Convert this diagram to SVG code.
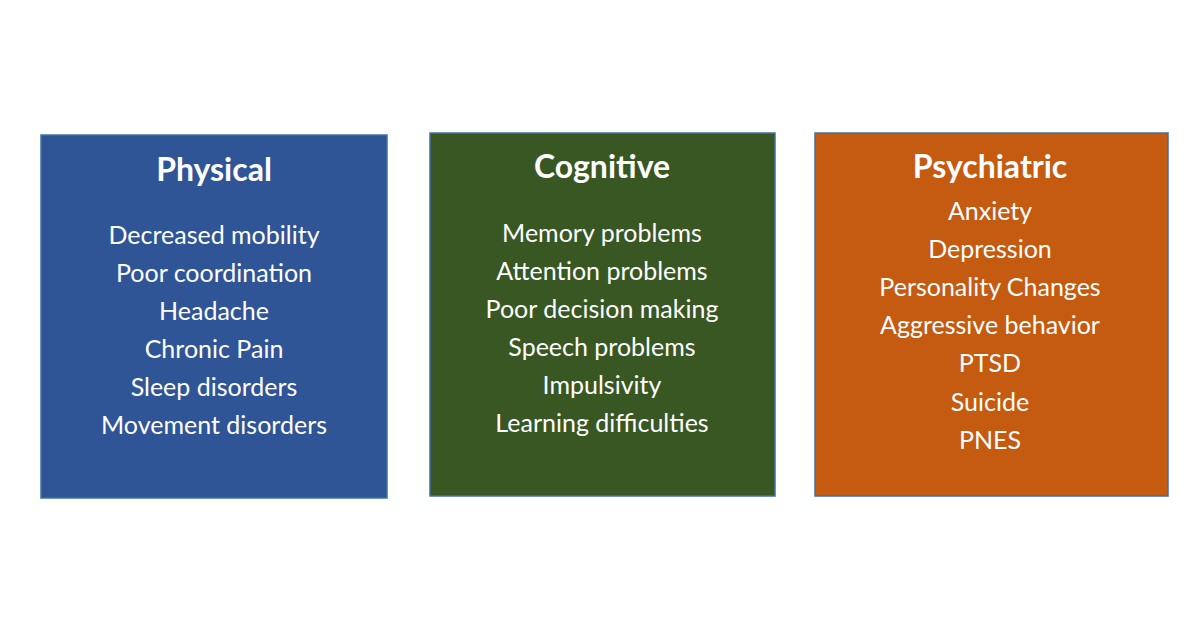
<svg xmlns="http://www.w3.org/2000/svg" width="1200" height="630" viewBox="0 0 1200 630">
<style>
.box{stroke:#41719C;stroke-width:1.5}
text{font-family:Lato,"Open Sans",sans-serif;fill:#fff;text-anchor:middle}
.t{font-size:32px;font-weight:bold}
.i{font-size:25px}
</style>
<rect width="1200" height="630" fill="#fff"/>
<g id="physical">
<rect class="box" x="41" y="135" width="346" height="363" fill="#2F5597"/>
<text class="t" x="214" y="181">Physical</text>
<text class="i" x="214" y="244">Decreased mobility</text>
<text class="i" x="214" y="282">Poor coordination</text>
<text class="i" x="214" y="320">Headache</text>
<text class="i" x="214" y="358">Chronic Pain</text>
<text class="i" x="214" y="396">Sleep disorders</text>
<text class="i" x="214" y="434">Movement disorders</text>
</g>
<g id="cognitive">
<rect class="box" x="430" y="133" width="345" height="363" fill="#385723"/>
<text class="t" x="602" y="178">Cognitive</text>
<text class="i" x="602" y="242">Memory problems</text>
<text class="i" x="602" y="280">Attention problems</text>
<text class="i" x="602" y="318">Poor decision making</text>
<text class="i" x="602" y="356">Speech problems</text>
<text class="i" x="602" y="394">Impulsivity</text>
<text class="i" x="602" y="432">Learning difficulties</text>
</g>
<g id="psychiatric">
<rect class="box" x="815" y="133" width="353" height="363" fill="#C55A11"/>
<text class="t" x="990" y="178">Psychiatric</text>
<text class="i" x="990" y="220">Anxiety</text>
<text class="i" x="990" y="258">Depression</text>
<text class="i" x="990" y="296">Personality Changes</text>
<text class="i" x="990" y="334">Aggressive behavior</text>
<text class="i" x="990" y="372">PTSD</text>
<text class="i" x="990" y="411">Suicide</text>
<text class="i" x="990" y="449">PNES</text>
</g>
<g id="connectors"/>
</svg>
